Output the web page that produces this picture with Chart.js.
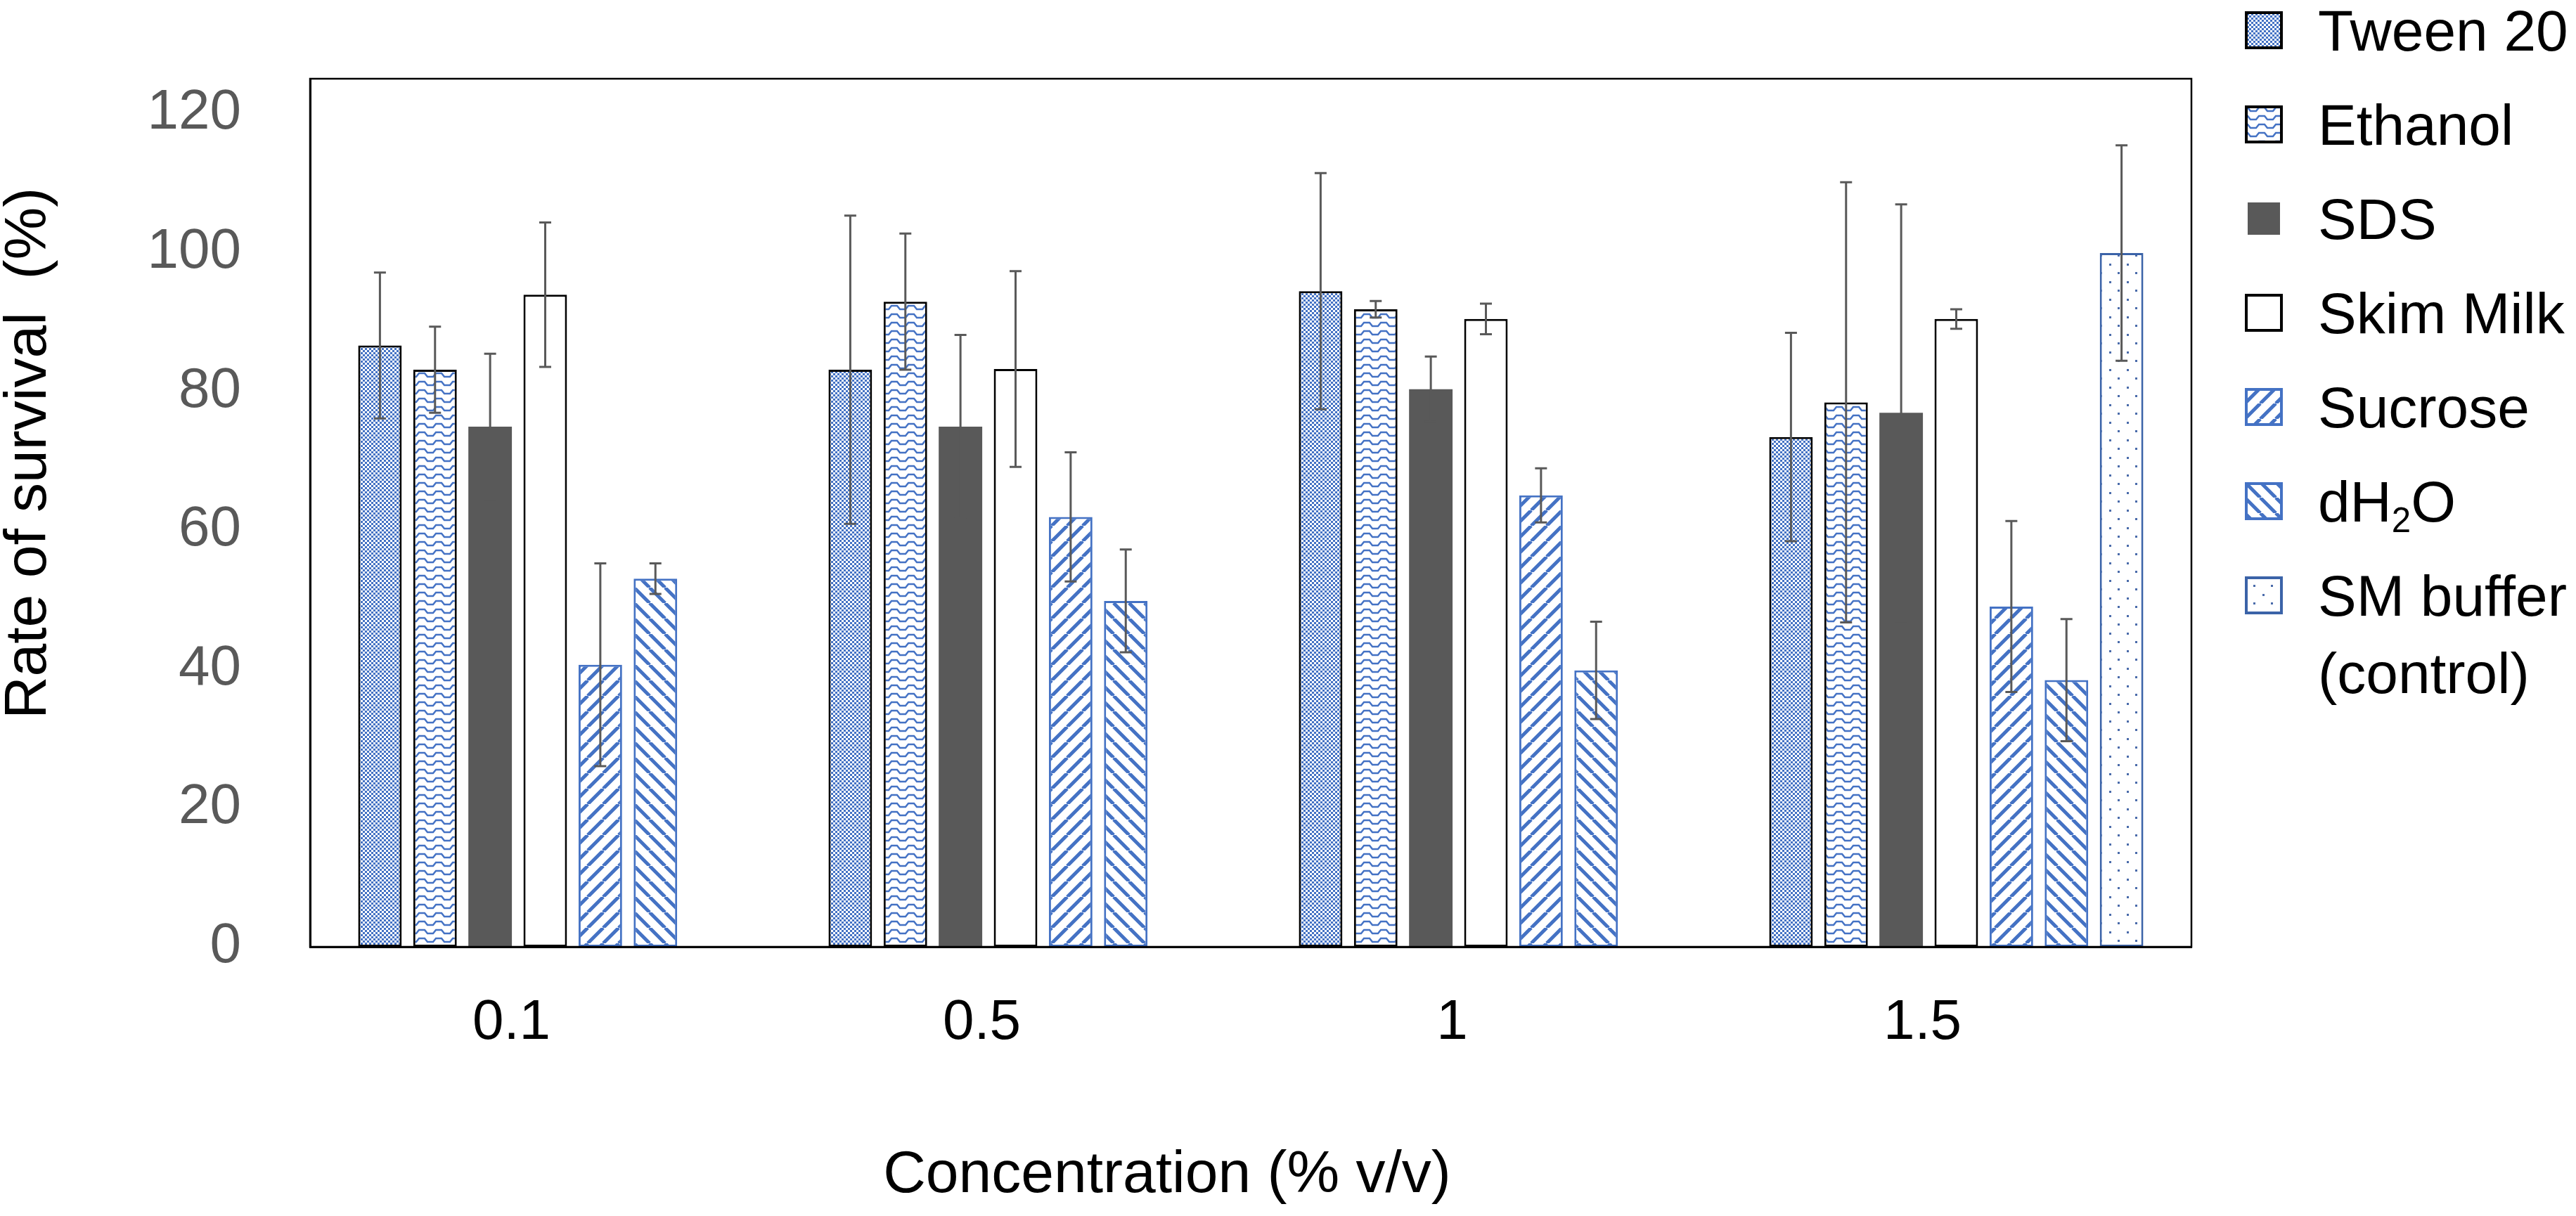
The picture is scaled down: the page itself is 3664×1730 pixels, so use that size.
<!DOCTYPE html>
<html lang="en">
<head>
  <meta charset="UTF-8">
  <title>Rate of survival</title>
  <script src="https://cdn.jsdelivr.net/npm/chart.js"></script>
  <style>
    body {
      margin: 0;
      background: #fff;
      font-family: "Liberation Sans", Arial, sans-serif;
    }

    .wrap {
      position: relative;
      width: 3664px;
      height: 1730px;
    }

    #legend {
      position: absolute;
      left: 0;
      top: 0;
    }

    .item {
      position: absolute;
      left: 3193px;
    }

    .item canvas {
      position: absolute;
      left: 0;
    }

    .item span {
      position: absolute;
      left: 104px;
      font-size: 82px;
      line-height: 110px;
      white-space: nowrap;
      color: #000;
    }

    .item sub {
      font-size: 0.6em;
      line-height: 0;
      vertical-align: -0.3em;
    }
  </style>
</head>
<body>

  <div class="wrap">
    <canvas id="survivalChart" width="3664" height="1730"></canvas>
    <div id="legend"></div>
  </div>

  <script>
    const concentrations = ['0.1', '0.5', '1', '1.5'];

    const tween20 = [86.6, 83.1, 94.4, 73.4];
    const tween20Err = [10.5, 22.2, 17.0, 15.0];
    const ethanol = [83.1, 92.9, 91.8, 78.4];
    const ethanolErr = [6.2, 9.8, 1.2, 31.7];
    const sds = [74.9, 74.9, 80.3, 76.9];
    const sdsErr = [10.5, 13.2, 4.7, 30.0];
    const skimMilk = [93.9, 83.2, 90.4, 90.4];
    const skimMilkErr = [10.4, 14.1, 2.2, 1.4];
    const sucrose = [40.6, 61.9, 65.0, 49.0];
    const sucroseErr = [14.6, 9.3, 3.9, 12.3];
    const dH2O = [53.0, 49.8, 39.8, 38.4];
    const dH2OErr = [2.2, 7.4, 7.0, 8.8];
    const smBuffer = [null, null, null, 99.9];
    const smBufferErr = [null, null, null, 15.5];

    const yTicks = [0, 20, 40, 60, 80, 100, 120];

    const FONT = '"Liberation Sans", Arial, sans-serif';
    const BLUE = '#4472C4';

    // small repeating tiles for the Excel-like fill patterns
    function makeTile(kind) {
      const c = document.createElement('canvas');
      let size = [6, 6];
      if (kind === 'wave') size = [24, 12];
      if (kind === 'up' || kind === 'down') size = [22, 22];
      if (kind === 'dots') size = [25, 25];
      c.width = size[0];
      c.height = size[1];
      const ctx = c.getContext('2d');
      ctx.fillStyle = '#fff';
      ctx.fillRect(0, 0, c.width, c.height);
      ctx.fillStyle = BLUE;
      ctx.strokeStyle = BLUE;

      if (kind === 'checker') {
        ctx.fillRect(0, 0, 3, 3);
        ctx.fillRect(3, 3, 3, 3);
      } else if (kind === 'wave') {
        ctx.lineWidth = 2.5;
        ctx.beginPath();
        ctx.moveTo(-2, 3);
        ctx.lineTo(4, 3);
        ctx.lineTo(8, 8);
        ctx.lineTo(16, 8);
        ctx.lineTo(20, 3);
        ctx.lineTo(26, 3);
        ctx.stroke();
      } else if (kind === 'up' || kind === 'down') {
        const p = c.width;
        ctx.lineWidth = 5;
        ctx.beginPath();
        for (let k = -1; k <= 1; k++) {
          if (kind === 'up') {
            ctx.moveTo(k * p, p);
            ctx.lineTo(k * p + p, 0);
          } else {
            ctx.moveTo(k * p, 0);
            ctx.lineTo(k * p + p, p);
          }
        }
        ctx.stroke();
      } else if (kind === 'dots') {
        ctx.fillStyle = '#4A6BAA';
        ctx.fillRect(0, 0, 3, 3);
        ctx.fillRect(12, 12, 3, 3);
      }
      return c;
    }

    const mainCtx = document.getElementById('survivalChart').getContext('2d');
    function pattern(kind) {
      if (kind === 'solid') return '#595959';
      if (kind === 'white') return '#ffffff';
      return mainCtx.createPattern(makeTile(kind), 'repeat');
    }

    const seriesNames = ['Tween 20', 'Ethanol', 'SDS', 'Skim Milk', 'Sucrose', 'dH<sub>2</sub>O', 'SM buffer<br>(control)'];
    const seriesValues = [tween20, ethanol, sds, skimMilk, sucrose, dH2O, smBuffer];
    const seriesErrors = [tween20Err, ethanolErr, sdsErr, skimMilkErr, sucroseErr, dH2OErr, smBufferErr];
    const seriesFill = ['checker', 'wave', 'solid', 'white', 'up', 'down', 'dots'];
    const seriesEdge = ['#000', '#000', null, '#000', BLUE, BLUE, '#3B63A8'];

    const datasets = seriesValues.map((vals, i) => ({
      label: seriesNames[i].replace(/<[^>]+>/g, ''),
      data: vals,
      errors: seriesErrors[i],
      backgroundColor: pattern(seriesFill[i]),
      borderColor: seriesEdge[i] || '#595959',
      borderWidth: seriesEdge[i] ? 3 : 0,
      borderSkipped: false,
      categoryPercentage: 0.82,
      barPercentage: 0.79
    }));

    // error bars, drawn from each bar's own position and the y scale
    const errorBars = {
      id: 'errorBars',
      afterDatasetsDraw(chart) {
        const ctx = chart.ctx;
        const y = chart.scales.y;
        ctx.save();
        ctx.strokeStyle = '#595959';
        ctx.lineWidth = 3;
        chart.data.datasets.forEach((ds, i) => {
          const meta = chart.getDatasetMeta(i);
          ds.data.forEach((v, j) => {
            const e = ds.errors[j];
            if (v === null || e === null) return;
            const x = meta.data[j].x;
            const top = y.getPixelForValue(v + e);
            const bot = y.getPixelForValue(v - e);
            ctx.beginPath();
            ctx.moveTo(x, top);
            ctx.lineTo(x, bot);
            ctx.moveTo(x - 8.5, top);
            ctx.lineTo(x + 8.5, top);
            ctx.moveTo(x - 8.5, bot);
            ctx.lineTo(x + 8.5, bot);
            ctx.stroke();
          });
        });
        ctx.restore();
      }
    };

    // plot frame and the two axis titles
    const frameAndTitles = {
      id: 'frameAndTitles',
      afterDraw(chart) {
        const ctx = chart.ctx;
        const a = chart.chartArea;
        ctx.save();
        ctx.strokeStyle = '#000';
        ctx.lineWidth = 2.5;
        ctx.strokeRect(a.left, a.top, a.right - a.left, a.bottom - a.top);

        ctx.fillStyle = '#000';
        ctx.font = '84px ' + FONT;
        ctx.textAlign = 'center';
        ctx.textBaseline = 'middle';
        ctx.fillText('Concentration (% v/v)', 1660, 1673);

        ctx.translate(42, 645);
        ctx.rotate(-Math.PI / 2);
        ctx.fillText('Rate of survival  (%)', 0, 0);
        ctx.restore();
      }
    };

    new Chart(mainCtx, {
      type: 'bar',
      data: {
        labels: concentrations,
        datasets: datasets
      },
      options: {
        responsive: false,
        devicePixelRatio: 1,
        animation: false,
        layout: { padding: { top: 112, right: 547, left: 0, bottom: 0 } },
        plugins: {
          legend: { display: false },
          tooltip: { enabled: false }
        },
        scales: {
          x: {
            grid: { display: false, drawTicks: false },
            border: { display: true, color: '#000', width: 3 },
            ticks: {
              color: '#000',
              padding: 61,
              labelOffset: -48,
              font: { size: 80, family: FONT }
            },
            afterFit: s => { s.height = 383; }
          },
          y: {
            min: 0,
            max: 125,
            grid: { display: false, drawTicks: false },
            border: { display: true, color: '#000', width: 3 },
            ticks: {
              stepSize: 20,
              color: '#595959',
              padding: 98,
              font: { size: 80, family: FONT }
            },
            afterBuildTicks: s => { s.ticks = yTicks.map(v => ({ value: v })); },
            afterFit: s => {
              s.width = 441;
              s.paddingTop = 0;
              s.paddingBottom = 0;
            }
          }
        }
      },
      plugins: [errorBars, frameAndTitles]
    });

    // legend on the right, real text with the same fills as the bars
    const legend = document.getElementById('legend');
    seriesNames.forEach((name, i) => {
      const centre = 43 + i * 134;
      const item = document.createElement('div');
      item.className = 'item';
      item.style.top = (centre - 27) + 'px';

      const sw = document.createElement('canvas');
      sw.width = 54;
      sw.height = 54;
      const sctx = sw.getContext('2d');
      if (seriesEdge[i]) {
        sctx.fillStyle = sctx.createPattern(makeTile(seriesFill[i]), 'repeat');
        if (seriesFill[i] === 'white') sctx.fillStyle = '#fff';
        sctx.fillRect(0, 0, 54, 54);
        sctx.strokeStyle = seriesEdge[i];
        sctx.lineWidth = 4;
        sctx.strokeRect(2, 2, 50, 50);
      } else {
        sctx.fillStyle = '#595959';
        sctx.fillRect(4, 4, 46, 46);
      }
      item.appendChild(sw);

      const txt = document.createElement('span');
      txt.innerHTML = name;
      txt.style.top = (27 - 54) + 'px';
      item.appendChild(txt);
      legend.appendChild(item);
    });
  </script>

</body>
</html>
